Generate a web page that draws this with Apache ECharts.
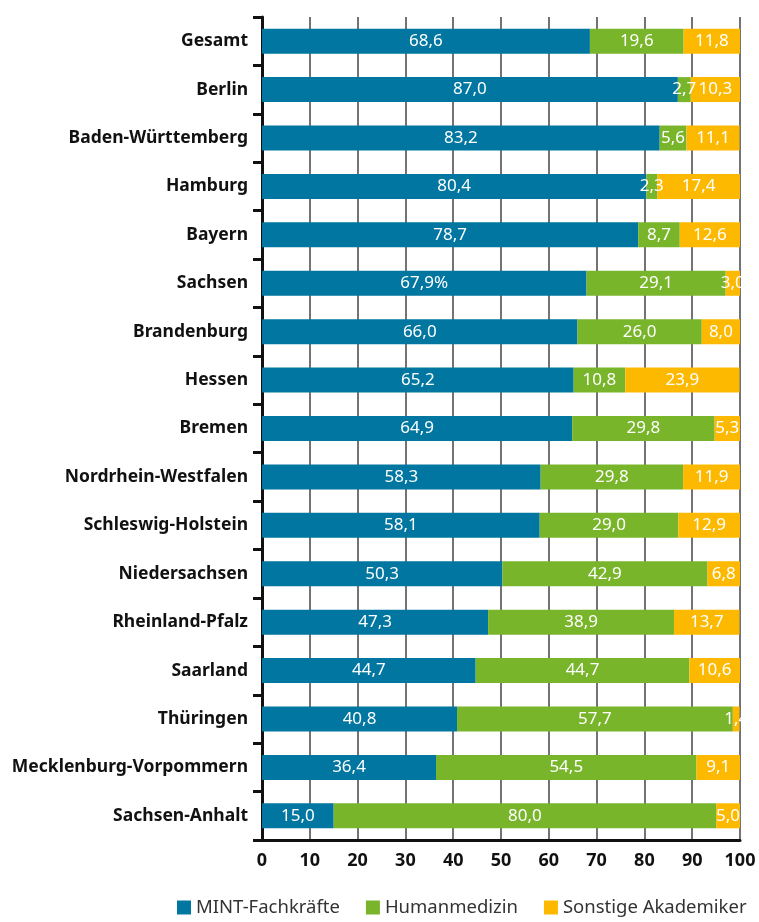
<!DOCTYPE html>
<html>
<head>
<meta charset="utf-8">
<script src="https://cdn.jsdelivr.net/npm/echarts@6/dist/echarts.min.js"></script>
<style>
  html, body { margin: 0; padding: 0; background: #fff; }
  #chart { width: 759px; height: 922px; }
</style>
</head>
<body>
<div id="chart"></div>
<script>
const categories = [
  "Gesamt", "Berlin", "Baden-Württemberg", "Hamburg", "Bayern", "Sachsen",
  "Brandenburg", "Hessen", "Bremen", "Nordrhein-Westfalen", "Schleswig-Holstein",
  "Niedersachsen", "Rheinland-Pfalz", "Saarland", "Thüringen",
  "Mecklenburg-Vorpommern", "Sachsen-Anhalt"
];
const mint = [68.6, 87.0, 83.2, 80.4, 78.7, 67.9, 66.0, 65.2, 64.9, 58.3, 58.1, 50.3, 47.3, 44.7, 40.8, 36.4, 15.0];
const medizin = [19.6, 2.7, 5.6, 2.3, 8.7, 29.1, 26.0, 10.8, 29.8, 29.8, 29.0, 42.9, 38.9, 44.7, 57.7, 54.5, 80.0];
const sonstige = [11.8, 10.3, 11.1, 17.4, 12.6, 3.0, 8.0, 23.9, 5.3, 11.9, 12.9, 6.8, 13.7, 10.6, 1.4, 9.1, 5.0];
const xTicks = [0, 10, 20, 30, 40, 50, 60, 70, 80, 90, 100];

const fmt = (v) => v.toFixed(1).replace(".", ",");
const font = "'Noto Sans', sans-serif";

const chart = echarts.init(document.getElementById("chart"));

// suffixAt: Sachsen's MINT label carries a "%" in the original
const barLabel = (suffixAt) => ({
  show: true,
  position: "inside",
  color: "#fff",
  fontFamily: font,
  fontSize: 17,
  formatter: (p) => fmt(p.value) + (p.dataIndex === suffixAt ? "%" : "")
});

chart.setOption({
  animation: false,
  grid: { left: 262, right: 19, top: 17, bottom: 82 },
  xAxis: {
    type: "value",
    min: xTicks[0],
    max: xTicks[xTicks.length - 1],
    interval: 10,
    axisLine: { show: true, lineStyle: { color: "#111", width: 3 } },
    axisTick: { show: false },
    splitLine: { show: true, lineStyle: { color: "#444", width: 1.5 } },
    axisLabel: {
      color: "#111", fontFamily: font, fontWeight: "bold", fontSize: 18, margin: 12,
      formatter: (v) => String(v)
    }
  },
  yAxis: {
    type: "category",
    inverse: true,
    data: categories,
    axisLine: { show: true, lineStyle: { color: "#111", width: 3 } },
    axisTick: { show: true, length: 9, lineStyle: { color: "#111", width: 3 } },
    axisLabel: {
      color: "#111", fontFamily: font, fontWeight: "bold", fontSize: 17.5, margin: 14
    }
  },
  legend: {
    bottom: 0,
    left: 172,
    width: 640,
    icon: "rect",
    itemWidth: 14,
    itemHeight: 14,
    itemGap: 26,
    textStyle: { color: "#333", fontFamily: font, fontSize: 18.5 },
    data: ["MINT-Fachkräfte", "Humanmedizin", "Sonstige Akademiker"]
  },
  series: [
    {
      name: "MINT-Fachkräfte", type: "bar", stack: "total", barWidth: 25,
      itemStyle: { color: "#0076A0" }, label: barLabel(5), data: mint
    },
    {
      name: "Humanmedizin", type: "bar", stack: "total", barWidth: 25,
      itemStyle: { color: "#78B52A" }, label: barLabel(-1), data: medizin
    },
    {
      name: "Sonstige Akademiker", type: "bar", stack: "total", barWidth: 25,
      itemStyle: { color: "#FDB900" }, label: barLabel(-1), data: sonstige
    }
  ]
});
</script>
</body>
</html>
